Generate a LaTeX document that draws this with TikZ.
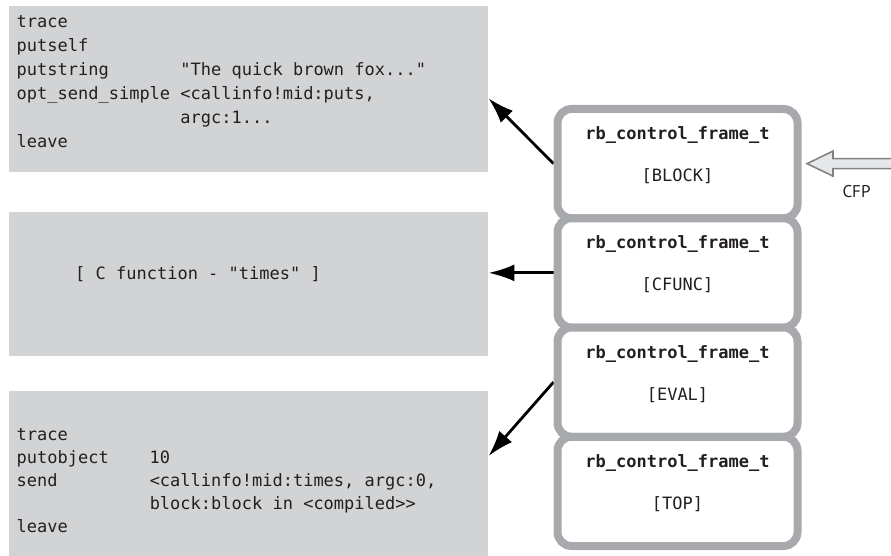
\documentclass[tikz,border=0pt]{standalone}
\usepackage{fontspec}
\setmonofont{DejaVu Sans Mono}
\newfontfamily\cfpfont{PT Sans}
\usetikzlibrary{arrows.meta,calc}
\definecolor{boxgray}{HTML}{D1D3D4}
\definecolor{framegray}{HTML}{A7A9AC}
\definecolor{cfpfill}{HTML}{E6E7E8}
\definecolor{cfpline}{HTML}{808285}
\definecolor{ink}{HTML}{231F20}
\begin{document}
\begin{tikzpicture}[x=1pt,y=-1pt,
  codebox/.style={fill=boxgray, draw=none, inner sep=0pt, anchor=north west},
  codeline/.style={anchor=base west, inner sep=0pt, text=ink, font=\ttfamily\fontsize{17}{20}\selectfont},
  frame/.style={draw=framegray, line width=8pt, fill=white, rounded corners=14pt, minimum width=240pt, minimum height=109.25pt, inner sep=0pt},
  ftitle/.style={anchor=base, inner sep=0pt, text=ink, font=\ttfamily\bfseries\fontsize{17}{20}\selectfont},
  flabel/.style={anchor=base, inner sep=0pt, text=ink, font=\ttfamily\fontsize{17}{20}\selectfont},
  ptr/.style={draw=black, line width=2.8pt, -{Latex[length=26pt,width=17pt]}},
  cfparrow/.style={draw=cfpline, fill=cfpfill, line width=1.6pt, line join=miter}]
\useasboundingbox (0,0) rectangle (891,556);

% code boxes
\node[codebox, minimum width=479pt, minimum height=166pt] (b1) at (9,6) {};
\node[codebox, minimum width=479pt, minimum height=144pt] (b2) at (9,212) {};
\node[codebox, minimum width=479pt, minimum height=165pt] (b3) at (9,391) {};

% box 1 text
\node[codeline] (a1) at (16.5,28) {trace};
\node[codeline] (a2) at (16.5,52) {putself};
\node[codeline] (a3) at (16.5,76) {\makebox[9.633em][l]{putstring}"The quick brown fox..."};
\node[codeline] (a4) at (16.5,100) {\makebox[9.633em][l]{opt\_send\_simple}<callinfo!mid:puts,};
\node[codeline] (a5) at (16.5,124) {\hspace*{9.633em}argc:1...};
\node[codeline] (a6) at (16.5,148) {leave};

% box 2 text
\node[codeline] (c1) at (75,279) {[ C function - "times" ]};

% box 3 text
\node[codeline] (d1) at (16.5,440) {trace};
\node[codeline] (d2) at (16.5,463) {\makebox[7.827em][l]{putobject}10};
\node[codeline] (d3) at (16.5,486) {\makebox[7.827em][l]{send}<callinfo!mid:times, argc:0,};
\node[codeline] (d4) at (16.5,509) {\hspace*{7.827em}block:block in <compiled>>};
\node[codeline] (d5) at (16.5,532) {leave};

% frames (positions only, drawn after arrows)
\path (677.5,163.625) coordinate (p1) (677.5,272.875) coordinate (p2)
      (677.5,382.125) coordinate (p3) (677.5,491.375) coordinate (p4);
\node[frame, draw=none, fill=none] (g1) at (p1) {};
\node[frame, draw=none, fill=none] (g2) at (p2) {};
\node[frame, draw=none, fill=none] (g3) at (p3) {};

% pointers
\draw[ptr] (g1.west) -- ($(b1.north east)!0.554!(b1.south east)$);
\draw[ptr] (g2.west) -- (g2.west -| b2.east);
\draw[ptr] (g3.west) -- ($(b3.north east)!0.394!(b3.south east)$);

\node[frame] (f1) at (p1) {};
\node[frame] (f2) at (p2) {};
\node[frame] (f3) at (p3) {};
\node[frame] (f4) at (p4) {};

\node[ftitle] (t1) at ($(f1.north)+(0,34.5)$) {rb\_control\_frame\_t};
\node[flabel] (l1) at ($(f1.north)+(0,76.5)$) {[BLOCK]};
\node[ftitle] (t2) at ($(f2.north)+(0,34.5)$) {rb\_control\_frame\_t};
\node[flabel] (l2) at ($(f2.north)+(0,76.5)$) {[CFUNC]};
\node[ftitle] (t3) at ($(f3.north)+(0,34.5)$) {rb\_control\_frame\_t};
\node[flabel] (l3) at ($(f3.north)+(0,76.5)$) {[EVAL]};
\node[ftitle] (t4) at ($(f4.north)+(0,34.5)$) {rb\_control\_frame\_t};
\node[flabel] (l4) at ($(f4.north)+(0,76.5)$) {[TOP]};

% CFP pointer
\draw[cfparrow] ([xshift=5.5pt]f1.east) -- ++(26,-12.5) -- ++(0,7.5) -- ++(75,0)
  -- ++(0,10) -- ++(-75,0) -- ++(0,7.5) -- cycle;
\node[anchor=base, inner sep=0pt, text=ink, font=\cfpfont\fontsize{17}{20}\selectfont] (cfp) at (856.5,198) {CFP};
\end{tikzpicture}
\end{document}
